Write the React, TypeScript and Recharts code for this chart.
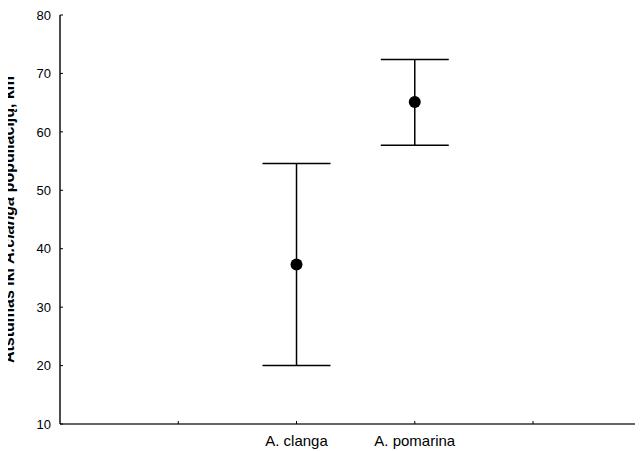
import React from "react";
import { ScatterChart, Scatter, XAxis, YAxis, ErrorBar } from "recharts";

const categories = ["A. clanga", "A. pomarina"];
const positions = [2, 3];
const means = [37.3, 65.1];
const lowers = [20.0, 57.7];
const uppers = [54.6, 72.4];
const yTicks = [10, 20, 30, 40, 50, 60, 70, 80];
const xTicks = [1, 2, 3, 4];

const data = categories.map((c, i) => ({
  name: c,
  x: positions[i],
  y: means[i],
  err: [means[i] - lowers[i], uppers[i] - means[i]],
}));

const FONT = "'Liberation Sans', Arial, sans-serif";

const XTick = (props: any) => {
  const { x, y, payload } = props;
  const idx = positions.indexOf(payload.value);
  const label = idx >= 0 ? categories[idx] : "";
  return (
    <g>
      <line x1={x} x2={x} y1={y} y2={y - 3} stroke="#000" strokeWidth={1} />
      <text x={x} y={y + 22} textAnchor="middle" fontSize={15} fontFamily={FONT} fill="#000">
        {label}
      </text>
    </g>
  );
};

const YTick = (props: any) => {
  const { x, y, payload } = props;
  return (
    <g>
      <line x1={x} x2={x + 3} y1={y} y2={y} stroke="#000" strokeWidth={1} />
      <text x={x - 9} y={y} dy="0.36em" textAnchor="end" fontSize={13} fontFamily={FONT} fill="#000">
        {payload.value}
      </text>
    </g>
  );
};

const YLabel = () => (
  <text
    x={14}
    y={219.5}
    transform="rotate(-90, 14, 219.5)"
    textAnchor="middle"
    fontSize={16}
    fontWeight="bold"
    fontFamily={FONT}
    fill="#000"
  >
    <tspan>Atstumas iki </tspan>
    <tspan fontStyle="italic">A.clanga</tspan>
    <tspan> populiacijų, km</tspan>
  </text>
);

export default function App() {
  return (
    <div style={{ margin: "-8px 0 0 -8px", width: 643, height: 451 }}>
      <ScatterChart
        width={643}
        height={451}
        margin={{ top: 15, right: 0, bottom: 0, left: 0 }}
        style={{ fontFamily: FONT }}
      >
        <XAxis
          xAxisId="top"
          orientation="top"
          type="number"
          domain={[0, 4.93]}
          allowDataOverflow
          tick={false}
          tickLine={false}
          height={0}
          axisLine={{ stroke: "#000", strokeWidth: 1.5 }}
        />
        <XAxis
          dataKey="x"
          type="number"
          domain={[0, 4.93]}
          allowDataOverflow
          ticks={xTicks}
          interval={0}
          tick={<XTick />}
          tickLine={false}
          tickSize={0}
          tickMargin={0}
          height={27}
          axisLine={{ stroke: "#333", strokeWidth: 1.5 }}
        />
        <YAxis
          dataKey="y"
          type="number"
          domain={[10, 80]}
          allowDataOverflow
          ticks={yTicks}
          interval={0}
          tick={<YTick />}
          tickLine={false}
          tickSize={0}
          tickMargin={0}
          width={60}
          axisLine={{ stroke: "#111", strokeWidth: 1.5 }}
          label={{ content: () => <YLabel /> }}
        />
        <Scatter
          data={data}
          fill="#000"
          isAnimationActive={false}
          shape={(p: any) => <circle cx={p.cx} cy={p.cy} r={6} fill="#000" />}
        >
          <ErrorBar dataKey="err" direction="y" width={34} stroke="#000" strokeWidth={1.5} />
        </Scatter>
      </ScatterChart>
    </div>
  );
}
